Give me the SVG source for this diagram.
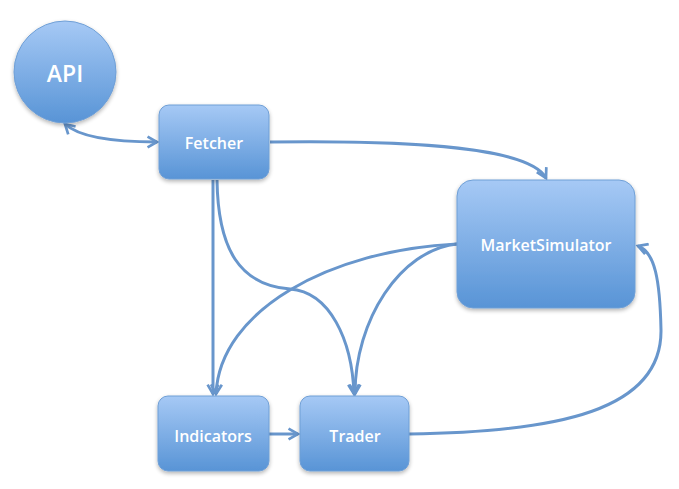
<svg xmlns="http://www.w3.org/2000/svg" width="679" height="489" viewBox="0 0 679 489">
<defs>
<linearGradient id="g" x1="0" y1="0" x2="0" y2="1">
<stop offset="0" stop-color="#a6c9f5"/>
<stop offset="1" stop-color="#5894d6"/>
</linearGradient>
<filter id="sh" x="-20%" y="-20%" width="140%" height="150%">
<feGaussianBlur in="SourceAlpha" stdDeviation="2"/>
<feOffset dy="2"/>
<feComponentTransfer><feFuncA type="linear" slope="0.3"/></feComponentTransfer>
<feMerge><feMergeNode/><feMergeNode in="SourceGraphic"/></feMerge>
</filter>
<marker id="ah" viewBox="0 0 10 10" refX="8" refY="5" markerWidth="4.5" markerHeight="4.5" orient="auto-start-reverse" markerUnits="strokeWidth">
<path d="M1,1 L8,5 L1,9" fill="none" stroke="#6896cc" stroke-width="2"/>
</marker>
</defs>
<style>
.n{fill:url(#g);stroke:#6f9fd6;stroke-width:1;filter:url(#sh)}
.t{fill:#fff;font-family:"Open Sans","Liberation Sans",sans-serif;font-weight:600;font-size:16px;text-anchor:middle;dominant-baseline:central}
.c{fill:none;stroke:#6896cc;stroke-width:3;marker-end:url(#ah)}
</style>
<rect width="679" height="489" fill="#fff"/>
<g id="connectors">
<path class="c" style="marker-start:url(#ah)" d="M65 124 C80 138 120 142 157 142"/>
<path class="c" d="M270 142 C420 140 530 148 546 178"/>
<path class="c" d="M213 180 L213 394"/>
<path class="c" d="M217 180 C218 250 240 285 290 289 C330 292 352 340 354 394"/>
<path class="c" d="M457 244 C330 250 220 310 216 394"/>
<path class="c" d="M457 244 C400 250 355 320 355 394"/>
<path class="c" d="M269 434 L298 434"/>
<path class="c" d="M409 434 C560 432 662 410 661 330 C660 280 655 252 638 246"/>
</g>
<g id="api"><circle class="n" cx="65" cy="72" r="51"/><text class="t" x="65" y="73" style="font-size:23px">API</text></g>
<g id="fetcher"><rect class="n" x="159" y="105" width="110" height="74" rx="10"/><text class="t" x="214" y="143">Fetcher</text></g>
<g id="marketsimulator"><rect class="n" x="457" y="180" width="178" height="128" rx="16"/><text class="t" x="546" y="245">MarketSimulator</text></g>
<g id="indicators"><rect class="n" x="158" y="396" width="111" height="75" rx="10"/><text class="t" x="213" y="436">Indicators</text></g>
<g id="trader"><rect class="n" x="300" y="396" width="109" height="75" rx="10"/><text class="t" x="355" y="436">Trader</text></g>
</svg>
